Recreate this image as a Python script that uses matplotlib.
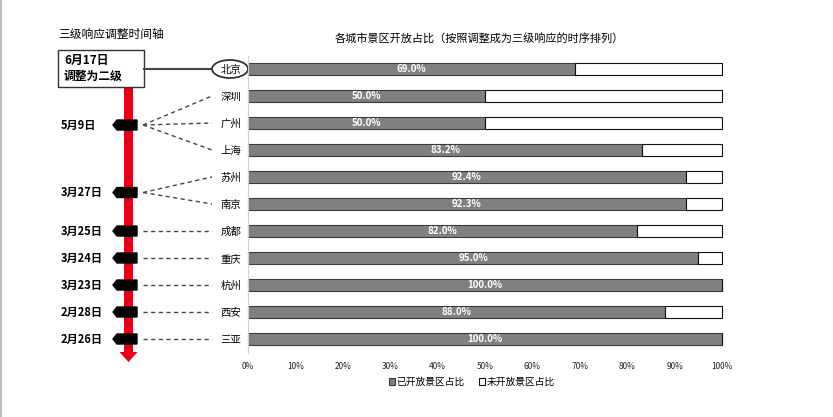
import matplotlib
matplotlib.use('Agg')
import matplotlib.pyplot as plt
from matplotlib.patches import FancyArrow, Ellipse, Rectangle, Polygon
import numpy as np

plt.rcParams['font.family'] = ['Noto Sans CJK SC', 'DejaVu Sans']

# data
cities = ['北京', '深圳', '广州', '上海', '苏州', '南京', '成都', '重庆', '杭州', '西安', '三亚']
opened = [69.0, 50.0, 50.0, 83.2, 92.4, 92.3, 82.0, 95.0, 100.0, 88.0, 100.0]
not_opened = [100 - v for v in opened]
dates = ['5月9日', '3月27日', '3月25日', '3月24日', '3月23日', '2月28日', '2月26日']
date_groups = [['深圳', '广州', '上海'], ['苏州', '南京'], ['成都'], ['重庆'], ['杭州'], ['西安'], ['三亚']]
top_note = '6月17日\n调整为二级'
xticks = list(range(0, 101, 10))

W, H = 833, 417
fig = plt.figure(figsize=(W / 100, H / 100), dpi=100)

# bar chart
ax = fig.add_axes([248 / W, 1 - 352.5 / H, (722 - 248) / W, 297 / H])
y = np.arange(len(cities))
b1 = ax.barh(y, opened, height=0.45, color='#808080', edgecolor='#3a3a3a', linewidth=0.8, label='已开放景区占比')
b2 = ax.barh(y, not_opened, left=opened, height=0.45, color='white', edgecolor='#111111', linewidth=0.8, label='未开放景区占比')
for p in list(b1) + list(b2):
    p.set_clip_on(False)
for i, v in enumerate(opened):
    ax.text(v / 2, i, f'{v:.1f}%', ha='center', va='center', color='white', fontsize=7, fontweight='bold')
ax.set_xlim(0, 100)
ax.set_ylim(len(cities) - 0.5, -0.5)
ax.set_xticks(xticks)
ax.set_xticklabels([f'{t}%' for t in xticks], fontsize=6, color='#222222')
ax.set_yticks(y)
ax.set_yticklabels(cities, fontsize=7.5)
ax.tick_params(length=0, pad=5)
ax.tick_params(axis='x', pad=7)
for s in ['top', 'right', 'bottom']:
    ax.spines[s].set_visible(False)
ax.spines['left'].set_color('#d0d0d0')
fig.text(479 / W, 1 - 38 / H, '各城市景区开放占比（按照调整成为三级响应的时序排列）', ha='center', va='center', fontsize=8)
fig.legend(*ax.get_legend_handles_labels(), loc='center', bbox_to_anchor=(472 / W, 1 - 382 / H), ncol=2,
           frameon=False, fontsize=7, handlelength=0.6, handleheight=0.6, handletextpad=0.2, columnspacing=1.5)

# timeline overlay in pixel coords
ov = fig.add_axes([0, 0, 1, 1], zorder=-1)
ov.set_xlim(0, W)
ov.set_ylim(H, 0)
ov.axis('off')


def ypix(i):
    return H - ax.transData.transform((0, i))[1]


ov.plot([1.5, 1.5], [0, H], color='#b0b0b0', lw=1.2)
ov.text(58, 34, '三级响应调整时间轴', fontsize=8.5, va='center', ha='left')

ov.add_patch(FancyArrow(128.5, 87, 0, 275, width=9, head_width=18, head_length=10,
                        length_includes_head=True, color='#e2001a', lw=0))
ov.add_patch(Rectangle((58, 50), 86, 37, facecolor='white', edgecolor='#333333', lw=1))
ov.text(64, 68.5, top_note, fontsize=8.5, va='center', ha='left', linespacing=1.35, fontweight='bold')

yb = ypix(0)
ov.plot([144, 212], [yb, yb], color='#444444', lw=1.5)
ov.add_patch(Ellipse((230, yb), 36, 18, facecolor='white', edgecolor='#333333', lw=1.3))

for d, grp in zip(dates, date_groups):
    idx = [cities.index(c) for c in grp]
    ym = ypix(np.mean(idx)) + (2 if len(idx) > 1 else 0)
    ov.add_patch(Polygon([(113, ym), (117, ym - 5), (137, ym - 5), (137, ym + 5), (117, ym + 5)],
                         closed=True, color='black'))
    ov.text(61, ym, d, fontsize=8, va='center', ha='left', fontweight='bold')
    for k in idx:
        ov.plot([143, 212], [ym, ypix(k)], color='#444444', lw=1, ls=(0, (3, 2.5)))

fig.savefig('out.png', dpi=100)
